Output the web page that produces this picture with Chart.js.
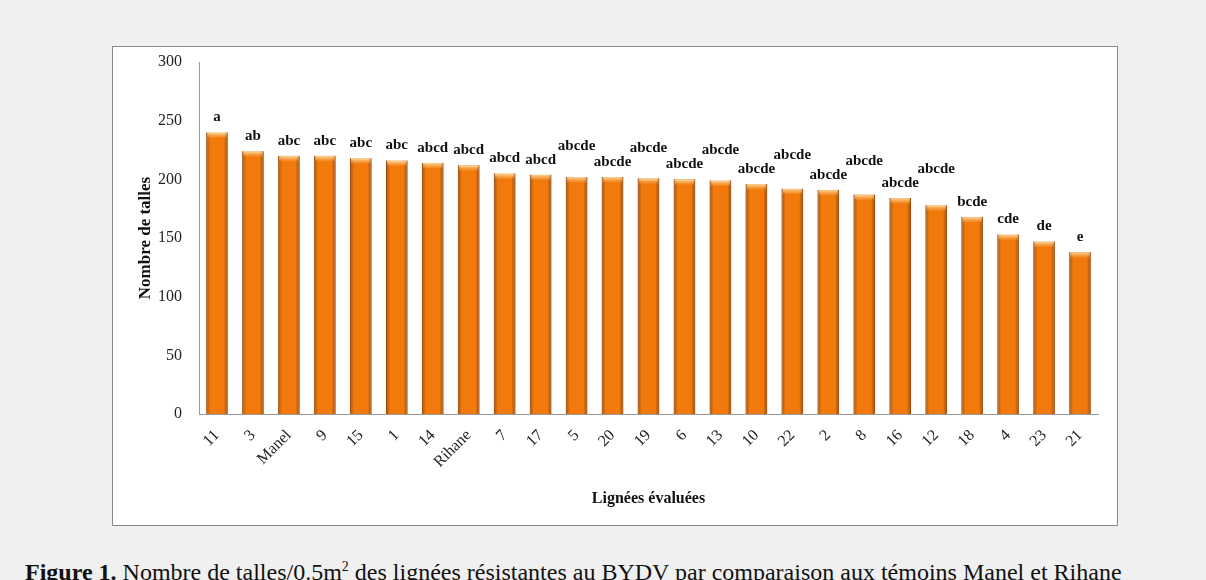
<!DOCTYPE html>
<html>
<head>
<meta charset="utf-8">
<script src="https://cdn.jsdelivr.net/npm/chart.js@4.4.1/dist/chart.umd.min.js"></script>
<style>
  html, body { margin: 0; padding: 0; }
  body { width: 1206px; height: 580px; background: #f0f0f0; position: relative; overflow: hidden; }
  #box { position: absolute; left: 112px; top: 46px; width: 1004px; height: 478px; background: #fff; border: 1px solid #8a8a8a; }
  #caption { position: absolute; left: 25px; top: 559px; font-family: "Liberation Serif", serif; font-size: 24px; color: #111; white-space: nowrap; }
  #caption sup { font-size: 14px; }
</style>
</head>
<body>
<div id="box"><canvas id="chart"></canvas></div>
<div id="caption"><b>Figure 1.</b> Nombre de talles/0.5m<sup>2</sup> des lignées résistantes au BYDV par comparaison aux témoins Manel et Rihane</div>
<script>
// lines, in the order shown (sorted by tiller count)
const lines = ['11', '3', 'Manel', '9', '15', '1', '14', 'Rihane', '7', '17', '5', '20', '19',
               '6', '13', '10', '22', '2', '8', '16', '12', '18', '4', '23', '21'];
const tillers = [240, 224, 220, 220, 218, 216, 214, 212, 205, 204, 202, 202, 201,
                 200, 199, 196, 192, 191, 187, 184, 178, 168, 153, 147, 138];
const groups = ['a', 'ab', 'abc', 'abc', 'abc', 'abc', 'abcd', 'abcd', 'abcd', 'abcd', 'abcde', 'abcde', 'abcde',
                'abcde', 'abcde', 'abcde', 'abcde', 'abcde', 'abcde', 'abcde', 'abcde', 'bcde', 'cde', 'de', 'e'];
const yTicks = [0, 50, 100, 150, 200, 250, 300];

const serif = '"Liberation Serif", "Times New Roman", serif';

// gives the bars a rounded, glossy look like the original
const barShading = {
  id: 'barShading',
  afterDatasetsDraw(chart) {
    const ctx = chart.ctx;
    chart.getDatasetMeta(0).data.forEach(bar => {
      const {x, y, base, width} = bar.getProps(['x', 'y', 'base', 'width'], true);
      const l = x - width / 2;
      const g = ctx.createLinearGradient(l, 0, l + width, 0);
      g.addColorStop(0, 'rgba(140,55,0,0.45)');
      g.addColorStop(0.18, 'rgba(0,0,0,0)');
      g.addColorStop(0.82, 'rgba(0,0,0,0)');
      g.addColorStop(1, 'rgba(140,55,0,0.5)');
      ctx.save();
      ctx.fillStyle = g;
      ctx.fillRect(l, y, width, base - y);
      const t = ctx.createLinearGradient(0, y, 0, y + 6);
      t.addColorStop(0, 'rgba(255,220,160,0.95)');
      t.addColorStop(1, 'rgba(255,200,130,0)');
      ctx.fillStyle = t;
      ctx.fillRect(l + 1, y, width - 2, 6);
      ctx.restore();
    });
  }
};

// significance letters above bars, lifted when they would collide with the previous one
const groupLetters = {
  id: 'groupLetters',
  afterDatasetsDraw(chart) {
    const ctx = chart.ctx;
    ctx.save();
    ctx.font = 'bold 15px ' + serif;
    ctx.fillStyle = '#111';
    ctx.textAlign = 'center';
    ctx.textBaseline = 'middle';
    const h = 12, gap = 15, pad = 3;
    let prev = null;
    chart.getDatasetMeta(0).data.forEach((bar, i) => {
      const {x, y} = bar.getProps(['x', 'y'], true);
      const w = ctx.measureText(groups[i]).width;
      let ly = y - gap;
      if (prev && Math.abs(x - prev.x) < (w + prev.w) / 2 + pad && Math.abs(ly - prev.y) < h) {
        ly = Math.min(y - 2 * gap, prev.y - h - 2);
      }
      ctx.fillText(groups[i], x, ly);
      prev = {x, y: ly, w};
    });
    ctx.restore();
  }
};

new Chart(document.getElementById('chart'), {
  type: 'bar',
  data: {
    labels: lines,
    datasets: [{
      data: tillers,
      backgroundColor: '#f27a0c',
      borderColor: '#b85c0e',
      borderWidth: 1,
      barPercentage: 0.6,
      categoryPercentage: 1
    }]
  },
  options: {
    responsive: true,
    maintainAspectRatio: false,
    animation: false,
    layout: { padding: { top: 15, right: 19, left: 0, bottom: 0 } },
    plugins: { legend: { display: false }, tooltip: { enabled: false } },
    scales: {
      x: {
        afterFit: s => { s.height = 111; s.paddingTop = 0; },
        grid: { display: false, drawTicks: false },
        border: { display: true, color: '#9a9a9a' },
        ticks: { color: '#222', font: { family: serif, size: 16 }, minRotation: 45, maxRotation: 45, padding: 12, autoSkip: false },
        title: { display: true, text: 'Lignées évaluées', color: '#111', font: { family: serif, size: 16, weight: 'bold' }, padding: { bottom: 17 } }
      },
      y: {
        min: 0,
        max: 300,
        afterFit: s => { s.width = 86; s.paddingTop = 0; s.paddingBottom = 0; },
        afterBuildTicks: s => { s.ticks = yTicks.map(v => ({ value: v })); },
        grid: { display: false, drawTicks: false },
        border: { display: true, color: '#9a9a9a' },
        ticks: { color: '#222', font: { family: serif, size: 16 }, padding: 17 },
        title: { display: true, text: 'Nombre de talles', color: '#111', font: { family: serif, size: 17, weight: 'bold' }, padding: { top: 22 } }
      }
    }
  },
  plugins: [barShading, groupLetters]
});
</script>
</body>
</html>
